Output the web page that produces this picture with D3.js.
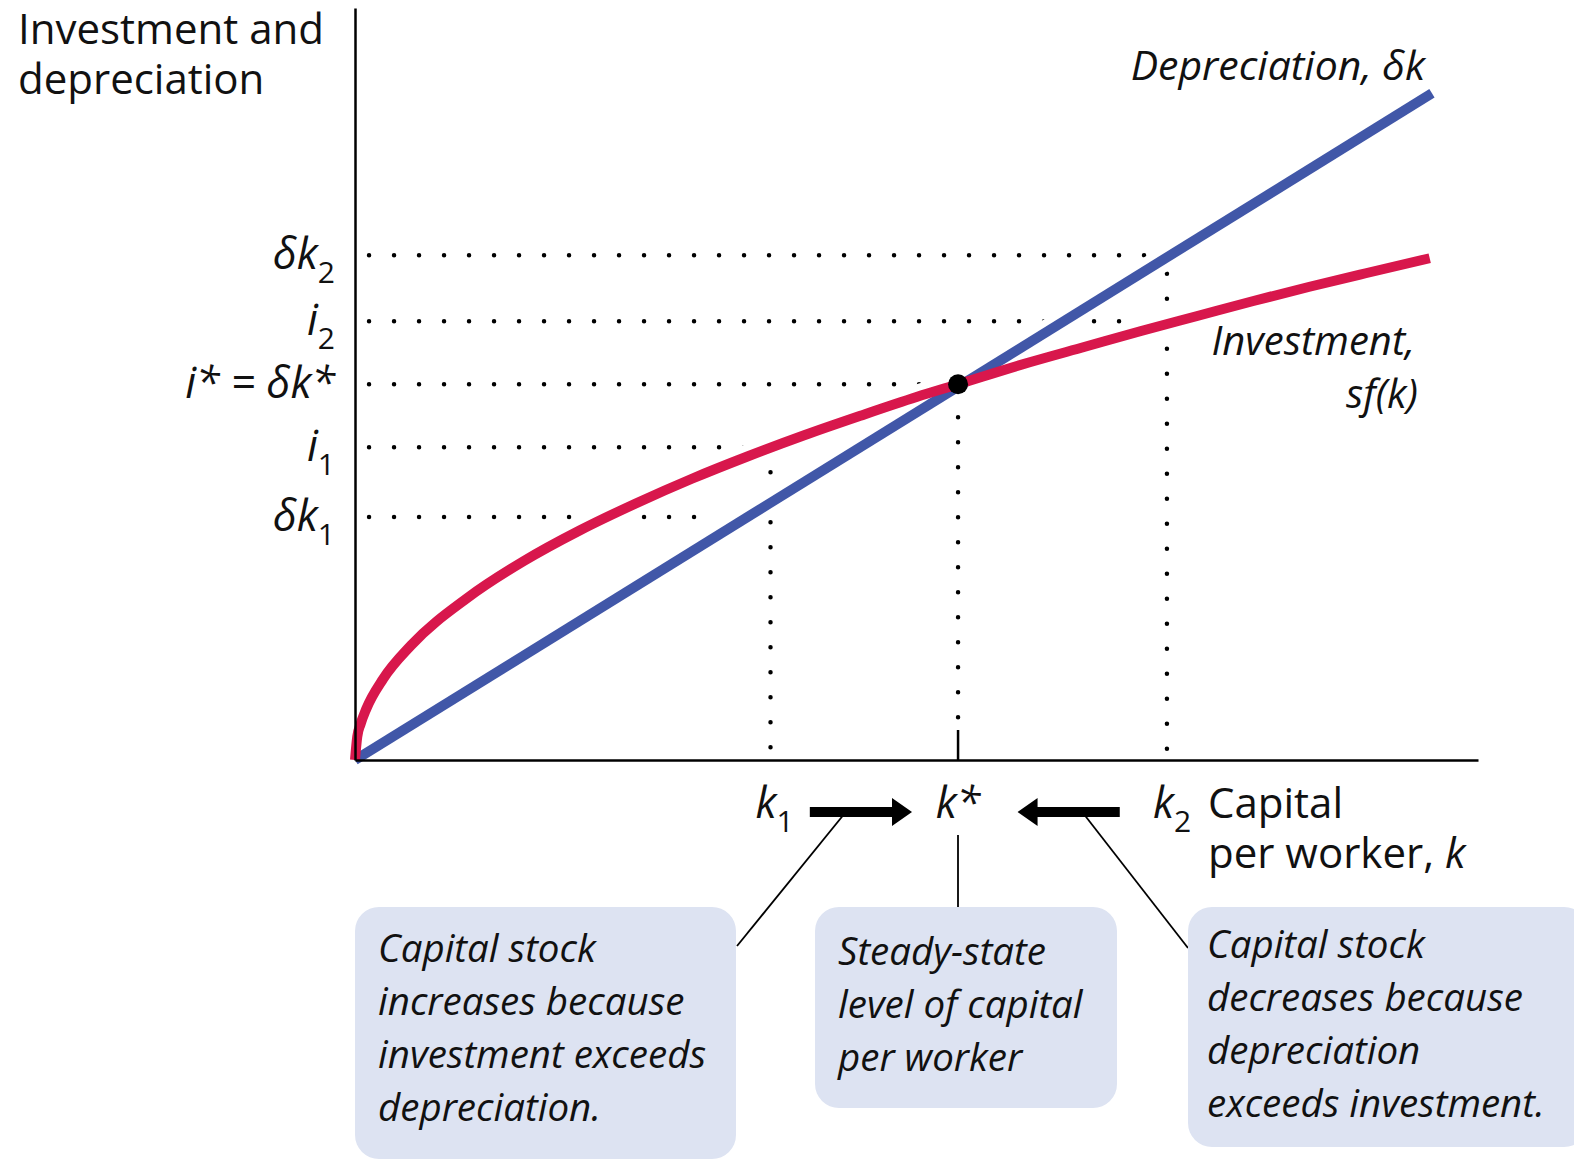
<!DOCTYPE html>
<html>
<head>
<meta charset="utf-8">
<script src="https://cdn.jsdelivr.net/npm/d3@7"></script>
<style>
  body { margin: 0; background: #fff; }
  text { font-family: "Open Sans", Lato, sans-serif; fill: #111; }
  .it { font-style: italic; }
</style>
</head>
<body>
<div id="chart"></div>
<script>
const dimensions = ({
  width: 1574,
  height: 1159,
  margin: { top: 10, right: 96, bottom: 399, left: 355 }
})

// capital per worker k
const capital = [0, 0.02, 0.05, 0.1, 0.25, 0.5, 1, 1.5, 2, 2.5, 3, 3.5, 4, 4.5, 5, 5.37, 6, 6.5, 7, 7.5, 8, 8.5, 9, 9.57]
// investment sf(k) at those k
const investment = [0, 0.31, 0.48, 0.68, 1.08, 1.53, 2.16, 2.65, 3.06, 3.42, 3.75, 4.05, 4.33, 4.59, 4.84, 5.01, 5.30, 5.51, 5.72, 5.92, 6.12, 6.31, 6.49, 6.69]
// depreciation line end points
const deprCapital = [0, 9.59]
const depreciation = [0, 8.89]

// marked capital levels and investment / depreciation levels
const kMarks = [3.70, 5.37, 7.23]           // k1, k*, k2
const levels = [6.73, 5.85, 5.01, 4.17, 3.24] // dk2, i2, i*, i1, dk1
const levelEnds = [7.23, 7.23, 5.37, 3.70, 3.12]
const vertTops = [4.17, 5.01, 6.73]
const vertBottoms = [0.17, 0.57, 0.15]

const boxTexts = [
  ["Capital stock", "increases because", "investment exceeds", "depreciation."],
  ["Steady-state", "level of capital", "per worker"],
  ["Capital stock", "decreases because", "depreciation", "exceeds investment."]
]

const x = d3.scaleLinear()
  .domain([0, 10])
  .range([dimensions.margin.left, dimensions.width - dimensions.margin.right])

const y = d3.scaleLinear()
  .domain([0, 10])
  .range([dimensions.height - dimensions.margin.bottom, dimensions.margin.top])

const svg = d3.select("#chart")
  .append("svg")
    .attr("width", dimensions.width)
    .attr("height", dimensions.height)

//======= dotted guides
const dotted = g => g
  .attr("stroke", "#000")
  .attr("stroke-width", 4.5)
  .attr("stroke-linecap", "round")
  .attr("stroke-dasharray", "0 25")

svg.append("g").call(dotted)
  .selectAll("line")
  .data(levels)
  .enter().append("line")
    .attr("x1", x(0.125))
    .attr("x2", (d, i) => x(levelEnds[i]))
    .attr("y1", d => y(d))
    .attr("y2", d => y(d))

svg.append("g").call(dotted)
  .selectAll("line")
  .data(kMarks)
  .enter().append("line")
    .attr("x1", d => x(d))
    .attr("x2", d => x(d))
    .attr("y1", (d, i) => y(vertBottoms[i]))
    .attr("y2", (d, i) => y(vertTops[i]))

// tick at k*
svg.append("line")
  .attr("x1", x(kMarks[1])).attr("x2", x(kMarks[1]))
  .attr("y1", y(0)).attr("y2", y(0.4))
  .attr("stroke", "#000").attr("stroke-width", 2.5)

//======= curves
const invLine = d3.line()
  .x((d, i) => x(capital[i]))
  .y(d => y(d))
  .curve(d3.curveMonotoneX)

const depLine = d3.line()
  .x((d, i) => x(deprCapital[i]))
  .y(d => y(d))

// white knock-out behind the curves
svg.append("path").attr("d", depLine(depreciation))
  .attr("fill", "none").attr("stroke", "#fff").attr("stroke-width", 24)
svg.append("path").attr("d", invLine(investment))
  .attr("fill", "none").attr("stroke", "#fff").attr("stroke-width", 24)

svg.append("path").attr("d", depLine(depreciation))
  .attr("fill", "none").attr("stroke", "#4157a8").attr("stroke-width", 10)
svg.append("path").attr("d", invLine(investment))
  .attr("fill", "none").attr("stroke", "#d8174c").attr("stroke-width", 10)

//======= axes
svg.append("g")
  .attr("transform", "translate(0," + y(0) + ")")
  .call(d3.axisBottom(x).tickValues([]).tickSizeOuter(0))
  .select(".domain").attr("stroke", "#000").attr("stroke-width", 2.5)

svg.append("g")
  .attr("transform", "translate(" + x(0) + ",0)")
  .call(d3.axisLeft(y.copy().range([y(0), 8])).tickValues([]).tickSizeOuter(0))
  .select(".domain").attr("stroke", "#000").attr("stroke-width", 2.5)

// steady state point
svg.append("circle")
  .attr("cx", x(kMarks[1])).attr("cy", y(levels[2]))
  .attr("r", 10).attr("fill", "#000")

//======= axis titles
svg.append("text").attr("font-size", 42).attr("font-weight", 500)
  .attr("x", 18).attr("y", 44).text("Investment and")
svg.append("text").attr("font-size", 42).attr("font-weight", 500)
  .attr("x", 18).attr("y", 94).text("depreciation")

svg.append("text").attr("font-size", 42).attr("font-weight", 500)
  .attr("x", 1208).attr("y", 818).text("Capital")
const xTitle = svg.append("text").attr("font-size", 42).attr("font-weight", 500)
  .attr("x", 1208).attr("y", 868)
xTitle.append("tspan").text("per worker, ")
xTitle.append("tspan").attr("class", "it").text("k")

//======= level labels on y axis
const yLabels = [
  [["δk", 0], ["2", 1]],
  [["i", 0], ["2", 1]],
  [["i* = δk*", 0]],
  [["i", 0], ["1", 1]],
  [["δk", 0], ["1", 1]]
]
yLabels.forEach((parts, i) => {
  const t = svg.append("text")
    .attr("class", "it")
    .attr("x", 335)
    .attr("y", y(levels[i]) + 14)
    .attr("text-anchor", "end")
    .attr("font-size", 43)
  parts.forEach(p => {
    const s = t.append("tspan").text(p[0])
    if (p[1]) s.attr("font-size", 30).attr("font-style", "normal").attr("dy", 14)
  })
})

//======= k labels under axis
const kLabels = [["k", "1"], ["k*", ""], ["k", "2"]]
const kOffsets = [-15, 0, -14]
kLabels.forEach((p, i) => {
  const t = svg.append("text")
    .attr("class", "it")
    .attr("x", x(kMarks[i]) + kOffsets[i])
    .attr("y", 818)
    .attr("text-anchor", i === 1 ? "middle" : "start")
    .attr("font-size", 43)
  t.append("tspan").text(p[0])
  if (p[1]) t.append("tspan").attr("font-size", 30).attr("font-style", "normal").attr("dy", 14).text(p[1])
})

//======= curve labels
svg.append("text").attr("class", "it")
  .attr("x", 1425).attr("y", 80)
  .attr("text-anchor", "end").attr("font-size", 41)
  .text("Depreciation, δk")

svg.append("text").attr("class", "it")
  .attr("text-anchor", "end").attr("font-size", 40)
  .attr("x", 1415).attr("y", 355).text("Investment,")
svg.append("text").attr("class", "it")
  .attr("text-anchor", "end").attr("font-size", 40)
  .attr("x", 1418).attr("y", 408).text("sf(k)")

//======= arrows
const arrow = (from, to) => {
  const x0 = x(from), x1 = x(to), cy = 812
  const dir = Math.sign(x1 - x0)
  const xh = x1 - dir * 20
  return "M" + x0 + "," + (cy - 5) + "L" + xh + "," + (cy - 5) + "L" + xh + "," + (cy - 14) +
    "L" + x1 + "," + cy + "L" + xh + "," + (cy + 14) + "L" + xh + "," + (cy + 5) +
    "L" + x0 + "," + (cy + 5) + "Z"
}
svg.append("path").attr("d", arrow(4.05, 4.96)).attr("fill", "#000")
svg.append("path").attr("d", arrow(6.81, 5.90)).attr("fill", "#000")

//======= leaders
const leaders = [[845, 813, 737, 946], [958, 835, 958, 907], [1083, 813, 1188, 948]]
svg.append("g").selectAll("line")
  .data(leaders)
  .enter().append("line")
    .attr("x1", d => d[0]).attr("y1", d => d[1])
    .attr("x2", d => d[2]).attr("y2", d => d[3])
    .attr("stroke", "#000").attr("stroke-width", 1.8)

//======= callout boxes
const boxes = [
  { x: 355, y: 907, w: 381, h: 252, tx: 378, ty: 962 },
  { x: 815, y: 907, w: 302, h: 201, tx: 838, ty: 965 },
  { x: 1188, y: 907, w: 400, h: 240, tx: 1207, ty: 958 }
]
boxes.forEach((b, i) => {
  svg.append("rect")
    .attr("x", b.x).attr("y", b.y).attr("width", b.w).attr("height", b.h)
    .attr("rx", 24).attr("fill", "#dde3f2")
  boxTexts[i].forEach((line, j) => {
    svg.append("text").attr("class", "it").attr("font-size", 38.5)
      .attr("x", b.tx).attr("y", b.ty + j * 53).text(line)
  })
})
</script>
</body>
</html>
